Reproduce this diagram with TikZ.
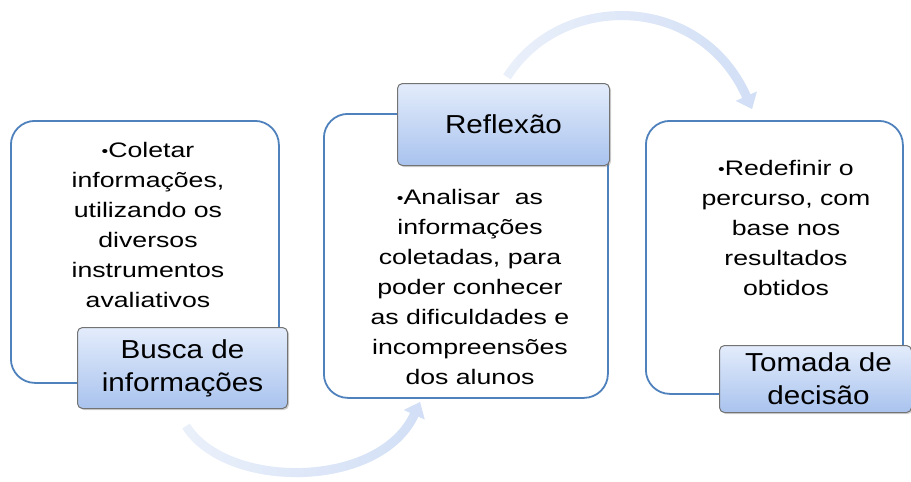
\documentclass[tikz,border=0pt]{standalone}
\usepackage{fontspec}
\setmainfont{Liberation Sans}
\newfontfamily\bodyfont[FakeStretch=1.27]{Liberation Sans}
\newfontfamily\lblfont[FakeStretch=1.14]{Liberation Sans}
\usetikzlibrary{arrows.meta,shadows,fadings}
\definecolor{boxblue}{HTML}{4F81BD}
\definecolor{arcblue}{HTML}{D2DFF6}
\definecolor{lbltop}{HTML}{E3ECFB}
\definecolor{lblbot}{HTML}{A9C3EE}
\newcommand{\bul}{\raisebox{1pt}{\fontsize{15}{15}\selectfont•}}
\tikzset{
  bigbox/.style={draw=boxblue, line width=1.8pt, rounded corners=24pt, fill=white, anchor=north west, inner sep=0pt},
  lblbox/.style={draw=black!55, line width=1pt, rounded corners=5pt, top color=lbltop, bottom color=lblbot,
    anchor=north west, inner sep=0pt, drop shadow={shadow xshift=1.5pt, shadow yshift=-1.5pt, opacity=0.35}},
  bodytxt/.style={align=center, font=\bodyfont\fontsize{21}{30}\selectfont, inner sep=0pt},
  lbltxt/.style={align=center, font=\lblfont\fontsize{26}{33}\selectfont, inner sep=0pt},
  arcbase/.style={draw=arcblue!45, line width=9pt, -{Triangle[length=14pt,width=22pt]}},
  cyclearc/.style={draw=arcblue, line width=9pt, -{Triangle[length=14pt,width=22pt]}, path fading=west}
}
\begin{document}
\begin{tikzpicture}[x=1pt,y=-1pt]
\useasboundingbox (0,0) rectangle (911,482);
% arcs
\coordinate (a1s) at (186,426);
\coordinate (a1e) at (420,402);
\coordinate (a2s) at (507,77);
\coordinate (a2e) at (752,109);
\draw[arcbase] (a1s) .. controls (226,490) and (380,490) .. (a1e);
\draw[arcbase] (a2s) .. controls (560,-8) and (700,-8) .. (a2e);
\draw[cyclearc] (a1s) .. controls (226,490) and (380,490) .. (a1e);
\draw[cyclearc] (a2s) .. controls (560,-8) and (700,-8) .. (a2e);
% big boxes
\node[bigbox, minimum width=268pt, minimum height=262pt] (b1) at (10,120) {};
\node[bigbox, minimum width=284pt, minimum height=284pt] (b2) at (323,113) {};
\node[bigbox, minimum width=257pt, minimum height=273pt] (b3) at (645,120) {};
% body texts
\node[bodytxt] (t1) at (148,225) {\bul Coletar\\informações,\\utilizando os\\diversos\\instrumentos\\avaliativos};
\node[bodytxt] (t2) at (470,287) {\bul Analisar\ \ as\\informações\\coletadas, para\\poder conhecer\\as dificuldades e\\incompreensões\\dos alunos};
\node[bodytxt] (t3) at (786,228) {\bul Redefinir o\\percurso, com\\base nos\\resultados\\obtidos};
% labels
\node[lblbox, minimum width=210pt, minimum height=81pt] (l1) at (77,327) {};
\node[lbltxt] at (l1.center) {Busca de\\informações};
\node[lblbox, minimum width=212pt, minimum height=82pt] (l2) at (397,83) {};
\node[lbltxt] at (l2.center) {Reflexão};
\node[lblbox, minimum width=192pt, minimum height=67pt] (l3) at (719,345) {};
\node[lbltxt] at ([xshift=3pt]l3.center) {Tomada de\\decisão};
\end{tikzpicture}
\end{document}
